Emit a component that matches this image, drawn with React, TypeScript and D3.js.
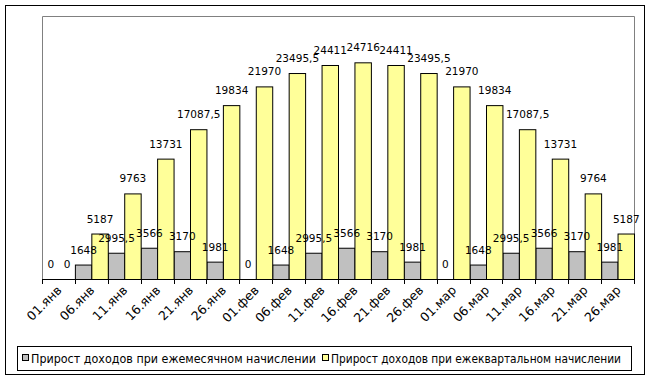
import React from "react";
import * as d3 from "d3";

const categories = ["01.янв","06.янв","11.янв","16.янв","21.янв","26.янв","01.фев","06.фев","11.фев","16.фев","21.фев","26.фев","01.мар","06.мар","11.мар","16.мар","21.мар","26.мар"];
const monthly = [0,1648,2995.5,3566,3170,1981,0,1648,2995.5,3566,3170,1981,0,1648,2995.5,3566,3170,1981];
const quarterly = [0,5187,9763,13731,17087.5,19834,21970,23495.5,24411,24716,24411,23495.5,21970,19834,17087.5,13731,9764,5187];
const seriesNames = ["Прирост доходов при ежемесячном начислении","Прирост доходов при ежеквартальном начислении"];
const colors = ["#C0C0C0","#FFFF99"];
const yMax = 30000;

const fmt = (v: number) => String(v).replace(".", ",");

export default function App() {
  const W = 651, H = 380;
  const left = 42, right = 634, top = 16, bottom = 279;
  const x = d3.scaleBand<string>().domain(categories).range([left, right]).paddingInner(0).paddingOuter(0);
  const sub = d3.scaleBand<number>().domain([0, 1]).range([0, x.bandwidth()]).padding(0);
  const y = d3.scaleLinear().domain([0, yMax]).range([bottom, top]);
  const series = [monthly, quarterly];
  const font = "'DejaVu Sans', Verdana, sans-serif";

  return (
    <svg width={W} height={H} style={{ position: "absolute", left: 0, top: 0 }} fontFamily={font}>
      <rect x={0} y={0} width={W} height={H} fill="#fff" />
      <rect x={5.5} y={5.5} width={639} height={369} fill="none" stroke="#000" />
      <path d={`M${left + 0.5},${bottom}V${top + 0.5}H${right + 0.5}V${bottom}`} fill="none" stroke="#808080" />
      {series.map((vals, si) =>
        vals.map((v, i) => {
          const bx = (x(categories[i]) as number) + (sub(si) as number);
          const bw = sub.bandwidth();
          return (
            <g key={`b${si}-${i}`}>
              {v > 0 && (
                <rect x={bx + 0.5} y={y(v) + 0.5} width={bw} height={bottom - y(v)} fill={colors[si]} stroke="#000" strokeWidth={1} />
              )}
            </g>
          );
        })
      )}
      {series.map((vals, si) =>
        vals.map((v, i) => {
          const bx = (x(categories[i]) as number) + (sub(si) as number) + sub.bandwidth() / 2;
          return (
            <text key={`l${si}-${i}`} x={bx + 0.5} y={y(v) - 11} textAnchor="middle" fontSize={10.5} fill="#000">
              {fmt(v)}
            </text>
          );
        })
      )}
      <line x1={left} x2={right + 1} y1={bottom + 0.5} y2={bottom + 0.5} stroke="#000" />
      {categories.map((c, i) => {
        const tx = Math.round(x(c) as number) + 0.5;
        return <line key={`t${i}`} x1={tx} x2={tx} y1={bottom} y2={bottom + 5} stroke="#000" />;
      })}
      <line x1={right + 0.5} x2={right + 0.5} y1={bottom} y2={bottom + 5} stroke="#000" />
      {categories.map((c, i) => {
        const cx = (x(c) as number) + x.bandwidth() / 2 + 4;
        const cy = bottom + 12;
        return (
          <text key={`x${i}`} x={cx} y={cy} textAnchor="end" fontSize={12.5} transform={`rotate(-45,${cx},${cy})`} fill="#000">
            {c}
          </text>
        );
      })}
      <rect x={17.5} y={346.5} width={614} height={24} fill="#fff" stroke="#000" />
      {seriesNames.map((n, i) => {
        const mx = i === 0 ? 22 : 322;
        const tl = i === 0 ? 285 : 290;
        return (
          <g key={`lg${i}`}>
            <rect x={mx + 0.5} y={354.5} width={6} height={6} fill={colors[i]} stroke="#000" />
            <text x={mx + 9} y={362.5} fontSize={11.5} textLength={tl} lengthAdjust="spacingAndGlyphs" fill="#000">{n}</text>
          </g>
        );
      })}
    </svg>
  );
}
